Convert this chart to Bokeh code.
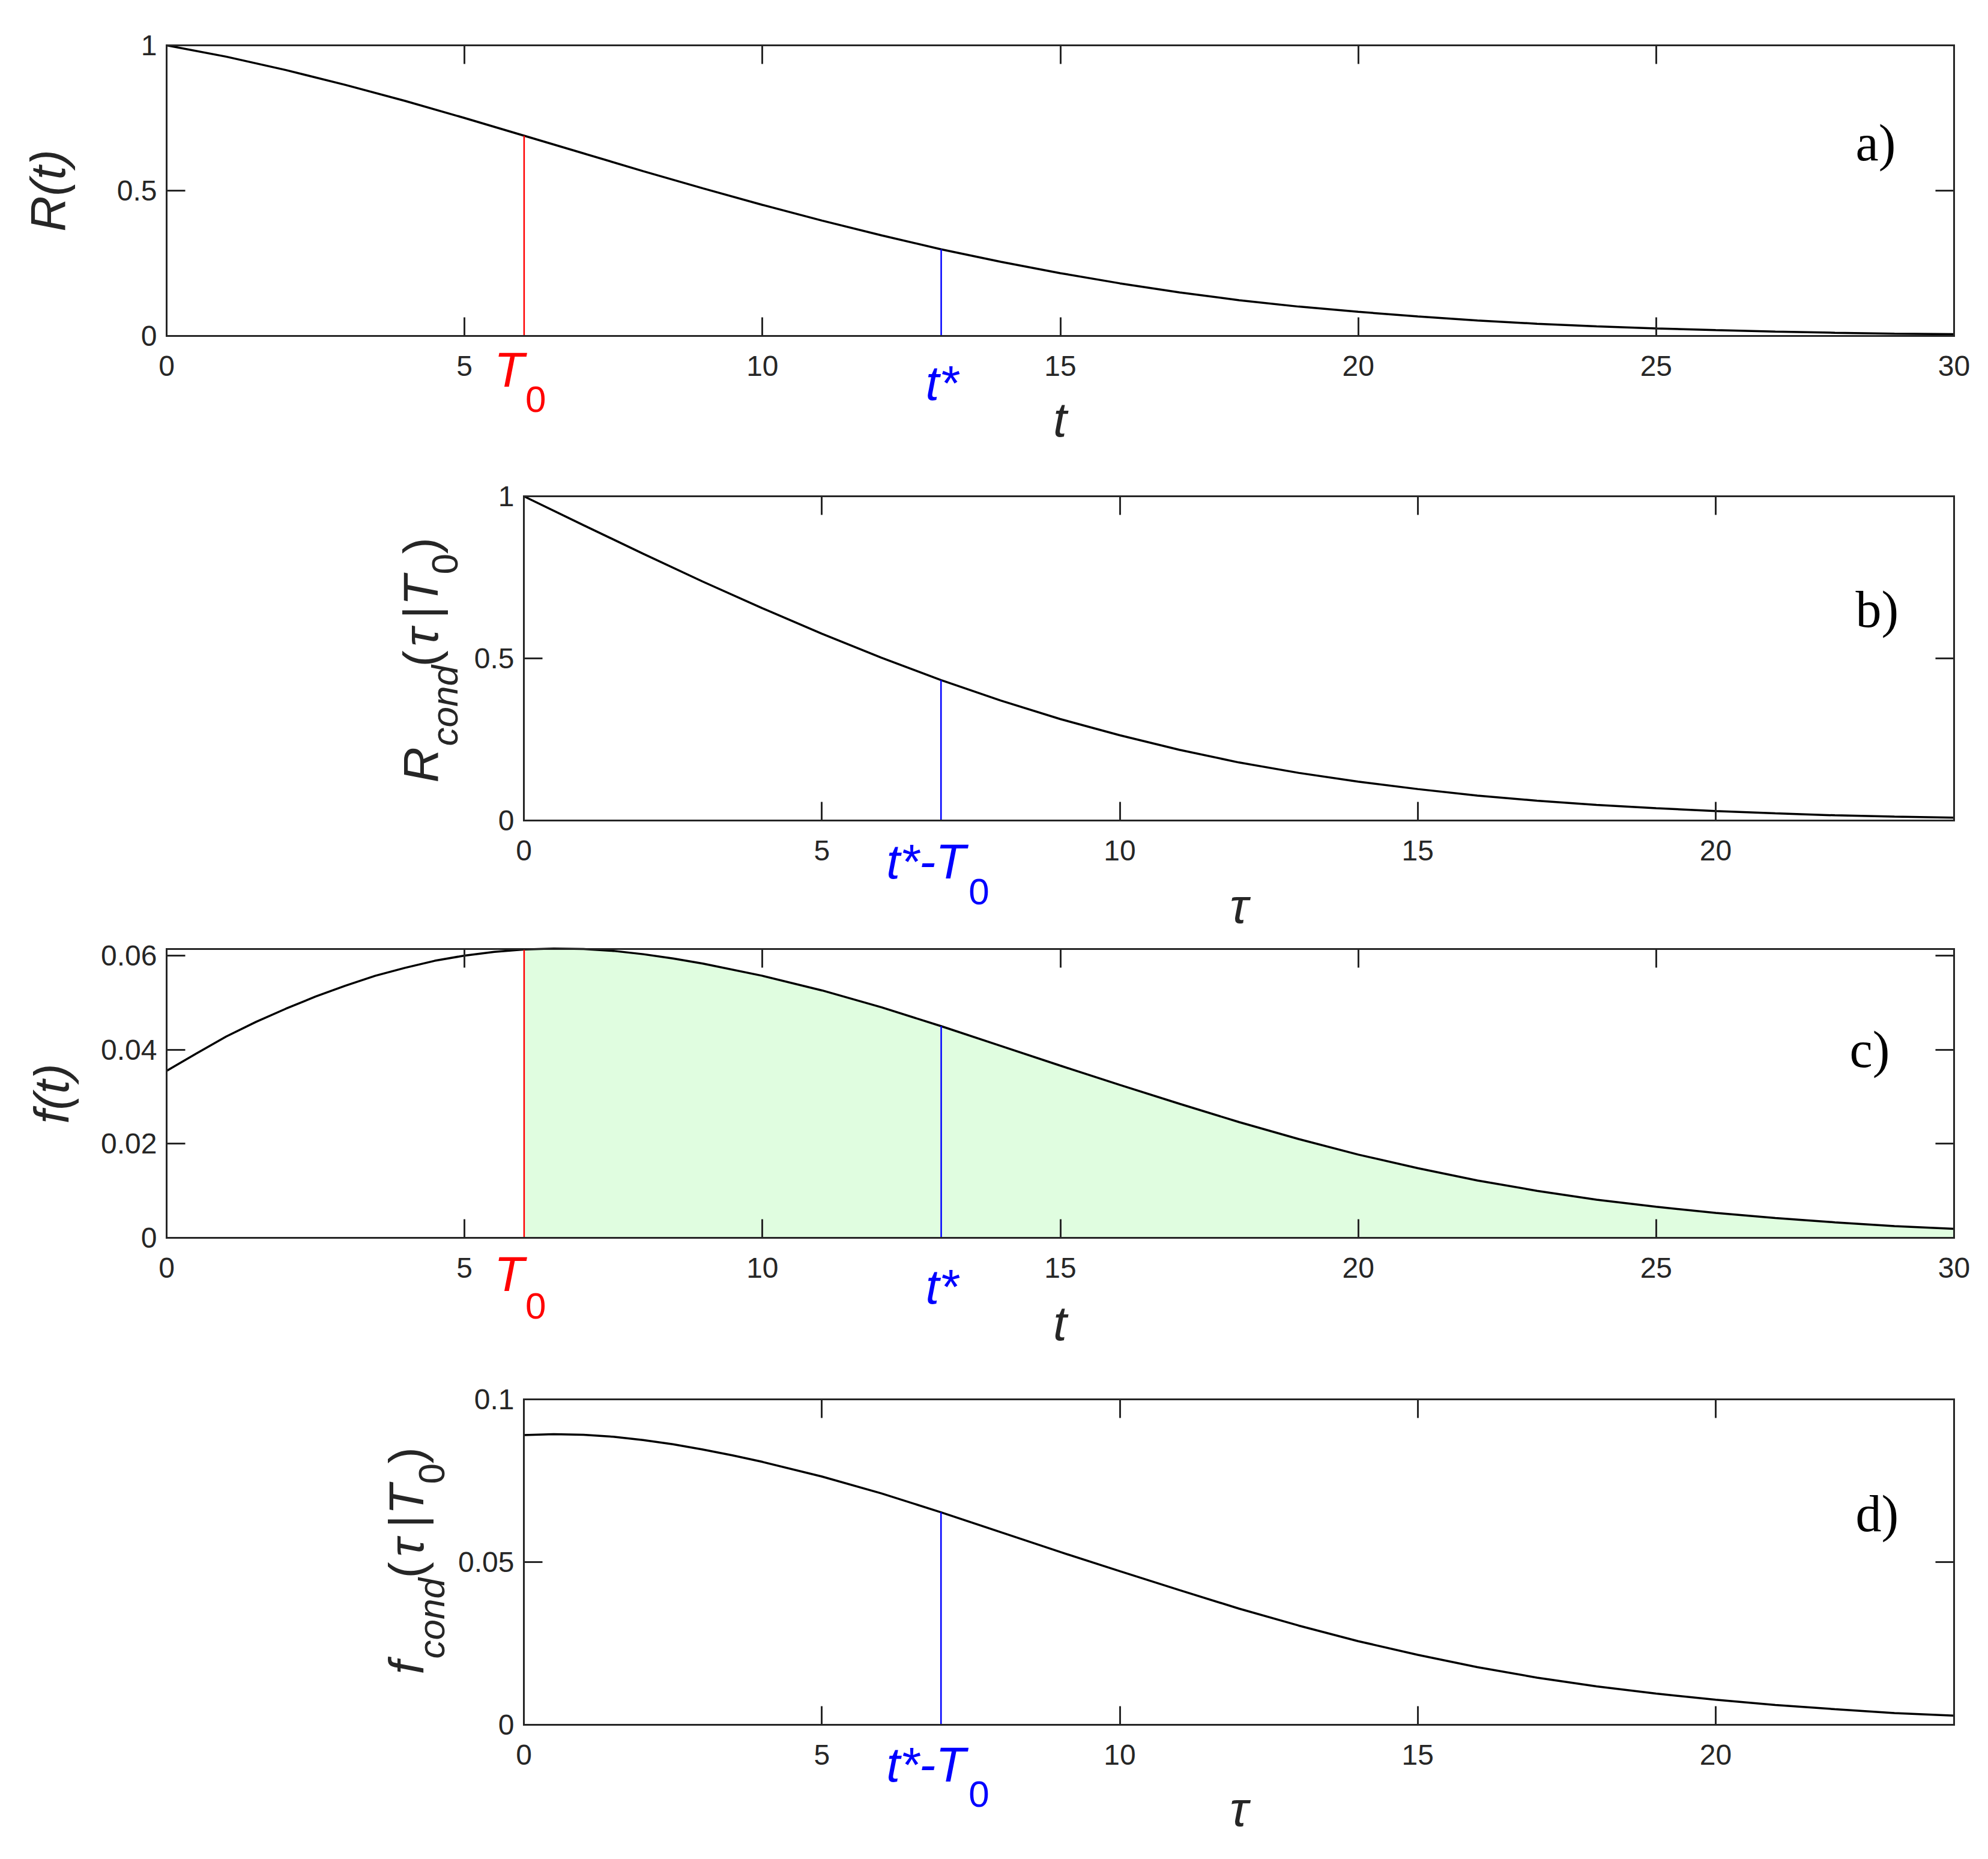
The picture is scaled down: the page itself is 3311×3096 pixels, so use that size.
from bokeh.plotting import figure
from bokeh.models import LinearAxis, FixedTicker, Label, Range1d
from bokeh.layouts import column
from bokeh.embed import file_html
from bokeh.resources import INLINE

# ---------------- data ----------------
T0 = 6
T_STAR = 13

t_R = [0, 1, 2, 3, 4, 5, 6, 7, 8, 9, 10, 11, 12, 13, 14, 15, 16, 17, 18, 19, 20,
       21, 22, 23, 24, 25, 26, 27, 28, 29, 30]
R_t = [1.000, 0.961, 0.915, 0.864, 0.809, 0.750, 0.689, 0.628, 0.567, 0.508, 0.451,
       0.397, 0.346, 0.298, 0.255, 0.216, 0.181, 0.150, 0.123, 0.101, 0.083,
       0.067, 0.053, 0.042, 0.033, 0.026, 0.020, 0.015, 0.011, 0.008, 0.006]

t_f = [0, 0.5, 1, 1.5, 2, 2.5, 3, 3.5, 4, 4.5, 5, 5.5, 6, 6.5, 7, 7.5, 8, 8.5, 9, 10,
       11, 12, 13, 14, 15, 16, 17, 18, 19, 20, 21, 22, 23, 24, 25, 26, 27, 28, 29, 30]
f_t = [0.0355, 0.0392, 0.0428, 0.0459, 0.0487, 0.0513, 0.0536, 0.0557, 0.0574, 0.0589,
       0.0600, 0.0608, 0.0613, 0.0615, 0.0614, 0.0610, 0.0603, 0.0594, 0.0583, 0.0557,
       0.0526, 0.0490, 0.0450, 0.0408, 0.0366, 0.0325, 0.0285, 0.0246, 0.0210, 0.0177,
       0.0148, 0.0122, 0.0100, 0.0081, 0.0066, 0.0053, 0.0042, 0.0033, 0.0025, 0.0019]

tau_R = [0, 1, 2, 3, 4, 5, 6, 7, 8, 9, 10, 11, 12, 13, 14, 15, 16, 17, 18, 19, 20,
         21, 22, 23, 24]
R_cond = [1.000, 0.911, 0.823, 0.737, 0.655, 0.576, 0.502, 0.433, 0.370, 0.313, 0.263,
          0.218, 0.179, 0.147, 0.120, 0.097, 0.077, 0.061, 0.048, 0.038, 0.029,
          0.022, 0.016, 0.012, 0.009]

tau_f = [0, 0.5, 1, 1.5, 2, 2.5, 3, 3.5, 4, 5, 6, 7, 8, 9, 10, 11, 12, 13, 14, 15, 16,
         17, 18, 19, 20, 21, 22, 23, 24]
f_cond = [0.0890, 0.0893, 0.0891, 0.0885, 0.0875, 0.0862, 0.0846, 0.0828, 0.0808, 0.0763,
          0.0711, 0.0653, 0.0592, 0.0531, 0.0472, 0.0414, 0.0357, 0.0305, 0.0257, 0.0215,
          0.0177, 0.0145, 0.0118, 0.0096, 0.0077, 0.0061, 0.0048, 0.0036, 0.0028]

x_ticks_t = [0, 5, 10, 15, 20, 25, 30]
x_labels_t = ["0", "5", "10", "15", "20", "25", "30"]
x_ticks_tau = [0, 5, 10, 15, 20]
x_labels_tau = ["0", "5", "10", "15", "20"]
y_ticks_R = [0, 0.5, 1]
y_labels_R = ["0", "0.5", "1"]
y_ticks_f = [0, 0.02, 0.04, 0.06]
y_labels_f = ["0", "0.02", "0.04", "0.06"]
y_ticks_fc = [0, 0.05, 0.1]
y_labels_fc = ["0", "0.05", "0.1"]

# ---------------- styling / layout ----------------
AX = "#262626"
SANS = "Liberation Sans"
SERIF = "Liberation Serif"
MAIN = "82px"
SUB = "62px"
TICK = "48px"
RED = "#ff0000"
BLUE = "#0000ff"
GREEN = "#e0fde0"
CANVAS_W = 3300


def style_axis(ax, ticks, labels, show, standoff):
    ax.ticker = FixedTicker(ticks=ticks)
    ax.major_label_overrides = {tk: lb for tk, lb in zip(ticks, labels)}
    ax.major_tick_in = 31
    ax.major_tick_out = 0
    ax.minor_tick_line_color = None
    ax.axis_line_color = AX
    ax.axis_line_width = 3
    ax.axis_line_cap = "square"
    ax.major_tick_line_color = AX
    ax.major_tick_line_width = 3
    ax.major_label_text_font = SANS
    ax.major_label_text_font_size = TICK
    ax.major_label_text_color = AX if show else None
    ax.major_label_standoff = standoff


class Panel:
    def __init__(self, xmax, ymax, xt, xl, yt, yl, bl, bw, top, bh, bottom):
        self.bl, self.bw, self.bh, self.bottom = bl, bw, bh, bottom
        xs = xmax / bw
        ys = ymax / bh
        right = CANVAS_W - bl - bw
        p = figure(width=CANVAS_W, height=top + bh + bottom, min_border=0,
                   x_axis_location=None, y_axis_location=None,
                   x_range=Range1d(-bl * xs, xmax + right * xs),
                   y_range=Range1d(-bottom * ys, ymax + top * ys),
                   output_backend="svg", toolbar_location=None,
                   background_fill_color="white", border_fill_color="white")
        p.outline_line_color = None
        p.grid.visible = False
        axb = LinearAxis(fixed_location=0, bounds=(0, xmax))
        style_axis(axb, xt, xl, True, 33)
        p.add_layout(axb, "below")
        axl = LinearAxis(fixed_location=0, bounds=(0, ymax))
        style_axis(axl, yt, yl, True, 16)
        p.add_layout(axl, "left")
        axt = LinearAxis(fixed_location=ymax, bounds=(0, xmax))
        style_axis(axt, xt, xl, False, 0)
        p.add_layout(axt, "above")
        axr = LinearAxis(fixed_location=xmax, bounds=(0, ymax))
        style_axis(axr, yt, yl, False, 0)
        p.add_layout(axr, "right")
        self.p = p

    def lab(self, text, x, y, size=MAIN, italic=True, color=AX, angle=0, align="left",
            baseline="alphabetic", font=SANS, data_x=None, xoff=0):
        if data_x is None:
            kw = dict(x=self.bl + x, x_units="screen")
        else:
            kw = dict(x=data_x, x_units="data", x_offset=xoff)
        self.p.add_layout(Label(y=self.bottom + y, y_units="screen", text=text,
                                text_font=font, text_font_size=size,
                                text_font_style="italic" if italic else "normal",
                                text_color=color, angle=angle, angle_units="deg",
                                text_align=align, text_baseline=baseline, **kw))

    def cond_ylabel(self, first, starts, main_x, sub_x):
        pieces = [(first, MAIN, True, main_x), ("cond", SUB, True, sub_x),
                  ("(", MAIN, False, main_x), ("τ", MAIN, True, main_x),
                  ("|", MAIN, False, main_x), ("T", MAIN, True, main_x),
                  ("0", SUB, False, sub_x), (")", MAIN, False, main_x)]
        for (txt, sz, it, xx), ys in zip(pieces, starts):
            self.lab(txt, xx, ys, size=sz, italic=it, angle=90)


R_T0 = R_t[t_R.index(T0)]
R_TS = R_t[t_R.index(T_STAR)]
f_T0 = f_t[t_f.index(T0)]
f_TS = f_t[t_f.index(T_STAR)]
TAU_S = T_STAR - T0
Rc_TS = R_cond[tau_R.index(TAU_S)]
fc_TS = f_cond[tau_f.index(TAU_S)]

# ---------------- panel a ----------------
A = Panel(30, 1, x_ticks_t, x_labels_t, y_ticks_R, y_labels_R, 277, 2977, 75, 484, 209)
A.p.line(t_R, R_t, line_color="black", line_width=3.5)
A.p.segment(x0=[T0], y0=[0], x1=[T0], y1=[R_T0], line_color=RED, line_width=2.5)
A.p.segment(x0=[T_STAR], y0=[0], x1=[T_STAR], y1=[R_TS], line_color=BLUE, line_width=2.5)
A.lab("R(t)", -198, 242, angle=90, align="center")
A.lab("t", 1488, -139, align="center")
A.lab("T", 0, -56, color=RED, data_x=T0, xoff=-50)
A.lab("0", 0, -105, size=SUB, italic=False, color=RED, data_x=T0, xoff=2)
A.lab("t*", 0, -78, color=BLUE, data_x=T_STAR, xoff=-26)
A.lab("a)", 2813, 322, size="86px", italic=False, color="black", font=SERIF)

# ---------------- panel b ----------------
B = Panel(24, 1, x_ticks_tau, x_labels_tau, y_ticks_R, y_labels_R, 872, 2382, 58, 540, 196)
B.p.line(tau_R, R_cond, line_color="black", line_width=3.5)
B.p.segment(x0=[TAU_S], y0=[0], x1=[TAU_S], y1=[Rc_TS], line_color=BLUE, line_width=2.5)
B.cond_ylabel("R", [63, 124, 256, 290, 336, 358, 410, 444], -172, -132)
B.lab("τ", 1191, -142, align="center")
B.lab("t*-T", 0, -68, color=BLUE, data_x=TAU_S, xoff=-91)
B.lab("0", 0, -118, size=SUB, italic=False, color=BLUE, data_x=TAU_S, xoff=46)
B.lab("b)", 2218, 352, size="86px", italic=False, color="black", font=SERIF)

# ---------------- panel c ----------------
C = Panel(30, 0.0614, x_ticks_t, x_labels_t, y_ticks_f, y_labels_f,
          277, 2977, 18, 481, 212)
fill_t = [tt for tt in t_f if tt >= T0]
fill_f = [ff for tt, ff in zip(t_f, f_t) if tt >= T0]
C.p.varea(x=fill_t, y1=[0] * len(fill_t), y2=fill_f, fill_color=GREEN)
C.p.line(t_f, f_t, line_color="black", line_width=3.5)
C.p.segment(x0=[T0], y0=[0], x1=[T0], y1=[f_T0], line_color=RED, line_width=2.5)
C.p.segment(x0=[T_STAR], y0=[0], x1=[T_STAR], y1=[f_TS], line_color=BLUE, line_width=2.5)
C.lab("f(t)", -192, 240, angle=90, align="center")
C.lab("t", 1488, -142, align="center")
C.lab("T", 0, -60, color=RED, data_x=T0, xoff=-50)
C.lab("0", 0, -113, size=SUB, italic=False, color=RED, data_x=T0, xoff=2)
C.lab("t*", 0, -81, color=BLUE, data_x=T_STAR, xoff=-26)
C.lab("c)", 2803, 314, size="86px", italic=False, color="black", font=SERIF)

# ---------------- panel d ----------------
D = Panel(24, 0.1, x_ticks_tau, x_labels_tau, y_ticks_fc, y_labels_fc, 872, 2382, 57, 542, 208)
D.p.line(tau_f, f_cond, line_color="black", line_width=3.5)
D.p.segment(x0=[TAU_S], y0=[0], x1=[TAU_S], y1=[fc_TS], line_color=BLUE, line_width=2.5)
D.cond_ylabel("f", [84, 110, 244, 280, 328, 350, 401, 435], -196, -154)
D.lab("τ", 1191, -140, align="center")
D.lab("t*-T", 0, -66, color=BLUE, data_x=TAU_S, xoff=-91)
D.lab("0", 0, -115, size=SUB, italic=False, color=BLUE, data_x=TAU_S, xoff=46)
D.lab("d)", 2218, 352, size="86px", italic=False, color="black", font=SERIF)

layout = column(A.p, B.p, C.p, D.p, spacing=0)
open("out.html", "w").write(file_html(layout, INLINE))
